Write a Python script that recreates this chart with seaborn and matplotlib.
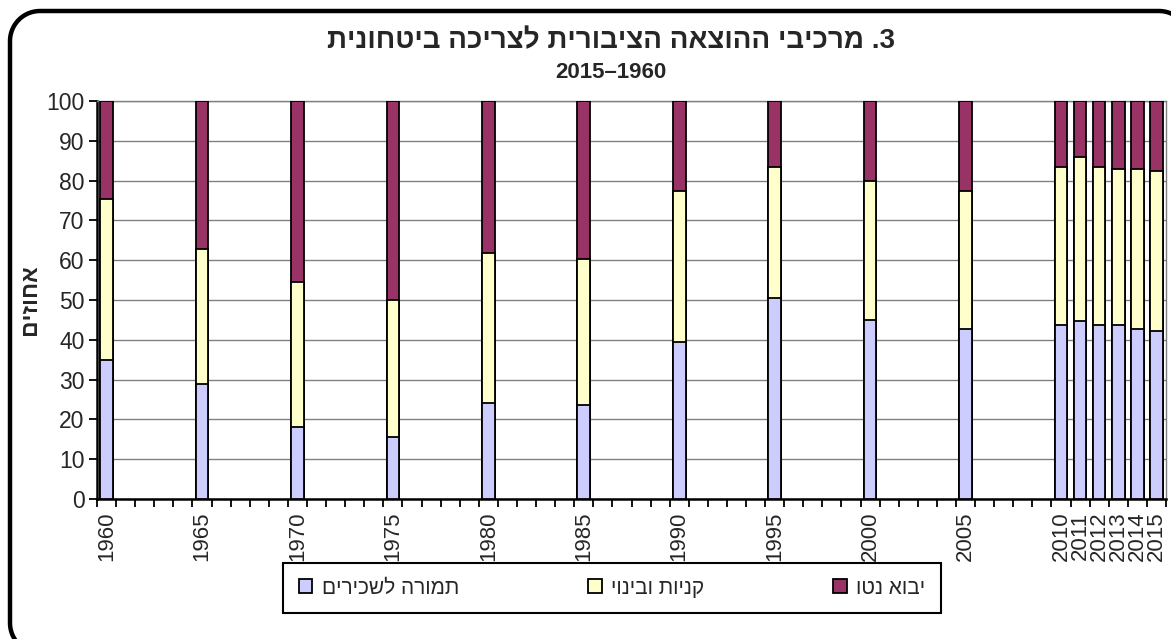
import numpy as np
import pandas as pd
import matplotlib
matplotlib.use('Agg')
import matplotlib.pyplot as plt
import seaborn as sns
from matplotlib.patches import Patch
from matplotlib.lines import Line2D

# data (percent of defence consumption)
years = [1960, 1965, 1970, 1975, 1980, 1985, 1990, 1995, 2000, 2005,
         2010, 2011, 2012, 2013, 2014, 2015]
wages = [35.0, 29.0, 18.0, 15.5, 24.0, 23.5, 39.5, 50.5, 45.0, 42.7,
         43.6, 44.6, 43.6, 43.6, 42.7, 42.2]
purchases = [40.3, 33.8, 36.6, 34.5, 37.8, 36.7, 37.9, 32.8, 34.8, 34.7,
             39.7, 41.3, 39.7, 39.2, 40.1, 40.2]
imports = [24.7, 37.2, 45.4, 50.0, 38.2, 39.8, 22.6, 16.7, 20.2, 22.6,
           16.7, 14.1, 16.7, 17.2, 17.2, 17.6]

series_names = ['תמורה לשכירים', 'קניות ובינוי', 'יבוא נטו']
series_colors = ['#CCCCFF', '#FFFFCC', '#993366']
title = 'מרכיבי ההוצאה הציבורית לצריכה ביטחונית'
subtitle = '2015–1960'
ylabel = 'אחוזים'


def rtl(s):
    # matplotlib has no bidi support, so lay Hebrew out in visual order
    return s[::-1]


all_years = [str(y) for y in range(1960, 2016)]
df = pd.DataFrame({'year': [str(y) for y in years],
                   'wages': wages, 'purchases': purchases, 'imports': imports})
df['mid'] = df['wages'] + df['purchases']
df['top'] = df['mid'] + df['imports']

sns.set_style('white')
plt.rcParams['font.family'] = ['Liberation Sans', 'DejaVu Sans']
plt.rcParams['savefig.bbox'] = 'standard'  # keep the exact canvas size

W, H = 1171, 639
fig = plt.figure(figsize=(W / 100, H / 100), dpi=100)
ax = fig.add_axes([97 / W, 1 - 499 / H, (1166 - 97) / W, 398 / H])

# stacked bars: draw cumulative totals from the top layer down
for col, color in [('top', series_colors[2]), ('mid', series_colors[1]),
                   ('wages', series_colors[0])]:
    sns.barplot(data=df, x='year', y=col, order=all_years, color=color,
                saturation=1, width=0.66, errorbar=None, edgecolor='black',
                linewidth=1.3, ax=ax, zorder=3)

ax.set_xlim(-0.5, len(all_years) - 0.5)
ax.set_ylim(0, 100)
ax.set_yticks(np.arange(0, 101, 10))
ax.yaxis.grid(True, color='#808080', linewidth=1)
ax.set_axisbelow(True)

pos = [all_years.index(str(y)) for y in years]
ax.set_xticks(pos)
ax.set_xticklabels([str(y) for y in years], rotation=90)
ax.set_xticks(np.arange(-0.5, len(all_years), 1), minor=True)
ax.tick_params(axis='x', which='major', length=0, pad=9, labelsize=16)
ax.tick_params(axis='x', which='minor', length=6, width=1.3, color='black',
               direction='out', bottom=True)
ax.tick_params(axis='y', length=6, width=1.3, color='black', direction='out',
               left=True, pad=3, labelsize=16.5)
ax.set_xlabel('')
ax.set_ylabel('')

for side in ['left', 'bottom']:
    ax.spines[side].set_color('black')
    ax.spines[side].set_linewidth(1.8)
for side in ['top', 'right']:
    ax.spines[side].set_color('#808080')
    ax.spines[side].set_linewidth(1)

fig.text(611 / W, 1 - 41 / H, rtl(title) + ' .3', ha='center', va='center',
         fontsize=20, fontweight='bold')
fig.text(611 / W, 1 - 73 / H, subtitle, ha='center', va='center',
         fontsize=16, fontweight='bold')
fig.text(30 / W, 1 - 300 / H, rtl(ylabel), rotation=90, ha='center',
         va='center', fontsize=16.5, fontweight='bold')

handles = [Patch(facecolor=c, edgecolor='black', linewidth=1.3)
           for c in series_colors]
leg = fig.legend(handles, [rtl(n) for n in series_names], ncol=3,
                 loc='center', bbox_to_anchor=(612 / W, 1 - 588 / H),
                 fontsize=15, frameon=True, fancybox=False,
                 edgecolor='black', framealpha=1, handlelength=0.65,
                 handleheight=0.65, handletextpad=0.45, columnspacing=6.2,
                 borderpad=0.75, borderaxespad=0)
leg.get_frame().set_linewidth(1.5)

# rounded chart border as an open line (only the parts that show in the
# source: bottom-left corner, left side, top edge, start of top-right corner)
x0, xr, yb, yt, r = 0.10, 11.89, -0.14, 6.28, 0.3
t = np.linspace(0, np.pi / 2, 20)
bl = [(x0 + r - r * np.sin(a), yb + r - r * np.cos(a)) for a in t]
tl = [(x0 + r - r * np.cos(a), yt - r + r * np.sin(a)) for a in t]
tr = [(xr - r + r * np.sin(a), yt - r + r * np.cos(a)) for a in t]
pts = [(x0 + 2, yb)] + bl + tl + tr
fx, fy = zip(*pts)
fig.add_artist(Line2D(fx, fy, transform=fig.dpi_scale_trans, color='black',
                      linewidth=3.2, solid_joinstyle='round'))

fig.savefig('out.png', dpi=100, bbox_inches=None)
